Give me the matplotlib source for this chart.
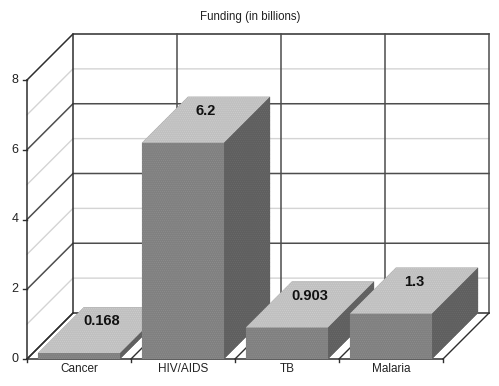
import matplotlib
matplotlib.use("Agg")
import matplotlib.pyplot as plt
from matplotlib.patches import Polygon

categories = ["Cancer", "HIV/AIDS", "TB", "Malaria"]
values = [0.168, 6.2, 0.903, 1.3]
value_labels = ["0.168", "6.2", "0.903", "1.3"]
y_ticks = [0, 2, 4, 6, 8]
y_minor = [1, 3, 5, 7]

plt.rcParams["font.family"] = ["Liberation Sans", "DejaVu Sans"]
plt.rcParams["hatch.linewidth"] = 0.3

fig = plt.figure(figsize=(4.99, 3.86), dpi=100)
ax = fig.add_axes([0, 0, 1, 1])
ax.set_xlim(-27 / 104, 472 / 104)
ax.set_ylim(-27 / 34.875, 359 / 34.875)
ax.axis("off")

# oblique depth, in data units
dx = 46 / 104
dy = 46 / 34.875
bar_w = 0.79
n = len(categories)
ymax = y_ticks[-1]
dark = "#2e2e2e"
mid = "#4d4d4d"
light = "#d4d4d4"

def face(points, color, speck, z):
    # flat fill plus a fine dotted texture like the original's dithering
    ax.add_patch(Polygon(points, closed=True, fc=color, ec="none", zorder=z))
    ax.add_patch(Polygon(points, closed=True, fc="none", ec=speck, lw=0, hatch="........", zorder=z))

# minor gridlines
for v in y_minor:
    ax.plot([0, dx, n + dx], [v, v + dy, v + dy], color=light, lw=1.0, zorder=1)

# major gridlines, left wall + back wall
for v in y_ticks:
    ax.plot([0, dx, n + dx], [v, v + dy, v + dy], color=dark if v in (0, 8) else mid, lw=1.1, zorder=2)

# walls and category lines
ax.plot([0, 0], [0, ymax], color=dark, lw=1.1, zorder=2)
for i in range(n + 1):
    ax.plot([i + dx, i + dx], [dy, ymax + dy], color=mid if i else dark, lw=1.1, zorder=2)
    ax.plot([i, i + dx], [0, dy], color=dark, lw=1.0, zorder=2)
    ax.plot([i, i], [0, -0.09], color=dark, lw=1.0, zorder=2)
ax.plot([0, n], [0, 0], color=dark, lw=1.1, zorder=2)

for v in y_ticks:
    ax.plot([-0.04, 0], [v, v], color=dark, lw=1.0, zorder=2)
    ax.text(-0.08, v, str(v), ha="right", va="center", fontsize=9, color="#222222")

# bars, left to right so the later ones sit in front
for i, v in enumerate(values):
    x0 = i + (1 - bar_w) / 2
    x1 = x0 + bar_w
    z = 3 + i
    # silhouette first, so no gridline shows through the seams between faces
    outline = [(x0, 0), (x1, 0), (x1 + dx, dy), (x1 + dx, v + dy), (x0 + dx, v + dy), (x0, v)]
    ax.add_patch(Polygon(outline, closed=True, fc="#808080", ec="none", zorder=z))
    face([(x0, v), (x1, v), (x1 + dx, v + dy), (x0 + dx, v + dy)], "#c0c0c0", "#d2d2d2", z)
    face([(x1, 0), (x1 + dx, dy), (x1 + dx, v + dy), (x1, v)], "#5f5f5f", "#6e6e6e", z)
    face([(x0, 0), (x1, 0), (x1, v), (x0, v)], "#808080", "#939393", z)

for i, v in enumerate(values):
    ax.text(i + 0.5 + dx / 2, v + dy / 2 + 9 / 34.875, value_labels[i], ha="center", va="center",
            fontsize=10.5, fontweight="bold", color="#111111", zorder=10)
    ax.text(i + 0.5, -9.8 / 34.875, categories[i], ha="center", va="center", fontsize=8.5, color="#222222")

ax.text((250 - 27) / 104, (359 - 17) / 34.875, "Funding (in billions)", ha="center", va="center",
        fontsize=8.3, color="#222222")

fig.savefig("out.png", dpi=100)
